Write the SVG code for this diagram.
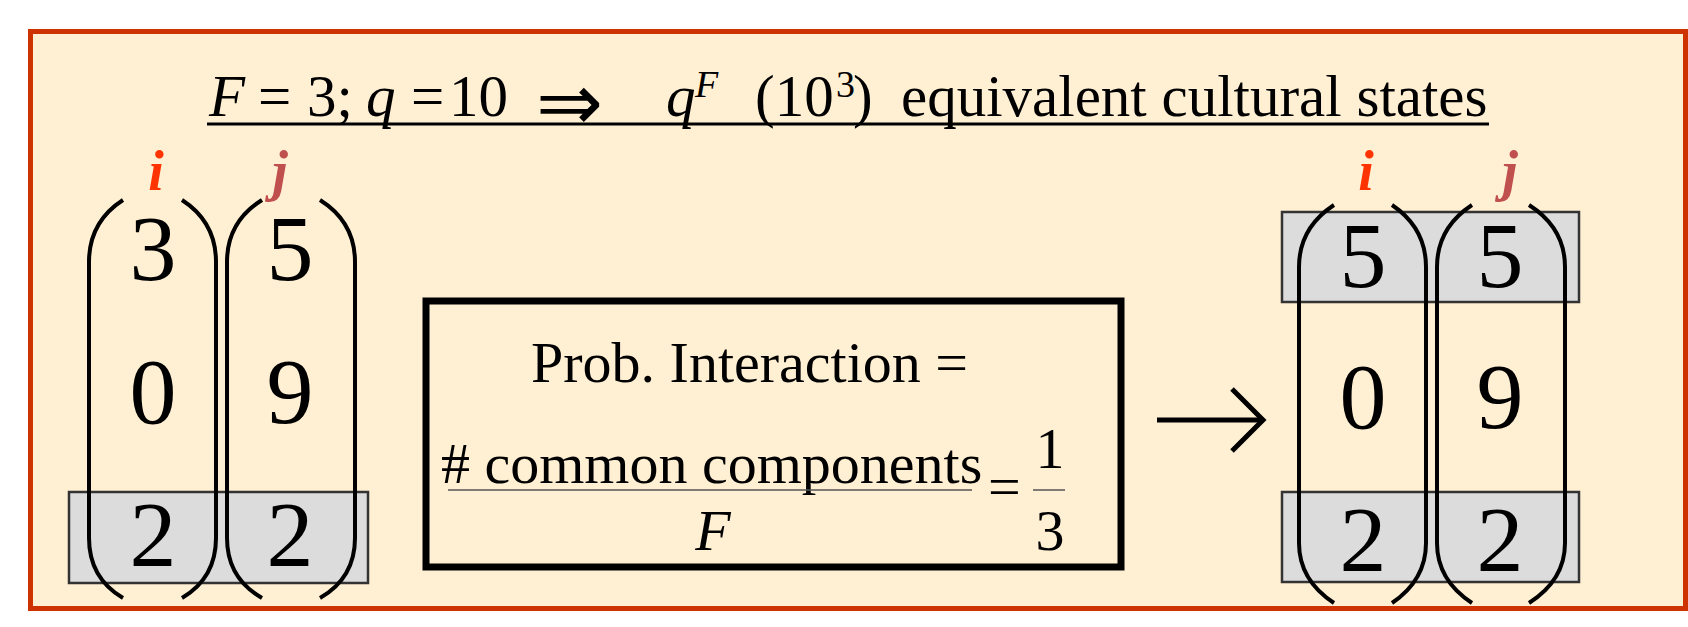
<svg xmlns="http://www.w3.org/2000/svg" width="1688" height="627" viewBox="0 0 1688 627">
<style>
  text { font-family: "Liberation Serif", "Times New Roman", "DejaVu Serif", serif; fill: #000; }
  .t { font-size: 59px; }
  .it { font-style: italic; }
  .sup { font-size: 38px; }
  .dig { font-size: 94px; text-anchor: middle; }
  .lbl { font-size: 56px; font-weight: bold; font-style: italic; text-anchor: middle; }
  .li { fill: #FF3300; }
  .lj { fill: #C0504D; }
  .paren { fill: none; stroke: #000; stroke-width: 4; }
  .hl { fill: #DCDCDC; stroke: #333; stroke-width: 2.5; }
  .m { font-size: 58px; }
</style>
<rect x="30.5" y="31.5" width="1655" height="577" fill="#FFEFD3" stroke="#CC3300" stroke-width="5"/>

<g id="title">
  <text class="t" y="116"><tspan x="209" class="it">F</tspan><tspan x="258">=</tspan><tspan x="307">3;</tspan><tspan x="366" class="it">q</tspan><tspan x="411">=</tspan><tspan x="449">10</tspan><tspan x="536" y="130" font-family="DejaVu Sans, sans-serif" font-size="80">⇒</tspan><tspan x="666" y="116" class="it">q</tspan><tspan x="695" y="97" class="sup it">F</tspan><tspan x="755" y="116">(10</tspan><tspan x="836" y="97" class="sup">3</tspan><tspan x="853" y="116">)</tspan><tspan x="901">equivalent cultural states</tspan></text>
  <line x1="207" y1="124" x2="1489" y2="124" stroke="#000" stroke-width="3"/>
</g>

<g id="left-matrix">
  <rect class="hl" x="69" y="492" width="299" height="91"/>
  <path class="paren" d="M123,200 Q89,222 89,262 L89,538 Q89,578 123,598"/>
  <path class="paren" d="M182,200 Q216,222 216,262 L216,538 Q216,578 182,598"/>
  <path class="paren" d="M262,200 Q227,222 227,262 L227,538 Q227,578 262,598"/>
  <path class="paren" d="M320,200 Q355,222 355,262 L355,538 Q355,578 320,598"/>
  <text class="lbl li" x="156" y="190">i</text>
  <text class="lbl lj" x="280" y="190">j</text>
  <text class="dig" x="153" y="280">3</text>
  <text class="dig" x="153" y="423">0</text>
  <text class="dig" x="153" y="566">2</text>
  <text class="dig" x="290" y="280">5</text>
  <text class="dig" x="290" y="423">9</text>
  <text class="dig" x="290" y="566">2</text>
</g>

<g id="probability-box">
  <rect x="426" y="301" width="695" height="266" fill="none" stroke="#000" stroke-width="7"/>
  <text class="m" x="531" y="382">Prob. Interaction =</text>
  <text class="m" x="441" y="483"># common components</text>
  <line x1="448" y1="490" x2="972" y2="490" stroke="#555" stroke-width="1.5"/>
  <text class="m it" x="713" y="550" text-anchor="middle">F</text>
  <text class="m" x="988" y="506">=</text>
  <text class="m" x="1050" y="468" text-anchor="middle" font-size="54">1</text>
  <line x1="1033" y1="490" x2="1065" y2="490" stroke="#555" stroke-width="1.5"/>
  <text class="m" x="1050" y="550" text-anchor="middle" font-size="54">3</text>
</g>

<g id="right-matrix">
  <rect class="hl" x="1282" y="212" width="297" height="90"/>
  <rect class="hl" x="1282" y="492" width="297" height="90"/>
  <path class="paren" d="M1334,205 Q1299,228 1299,267 L1299,543 Q1299,580 1334,603"/>
  <path class="paren" d="M1392,205 Q1426,228 1426,267 L1426,543 Q1426,580 1392,603"/>
  <path class="paren" d="M1472,205 Q1437,228 1437,267 L1437,543 Q1437,580 1472,603"/>
  <path class="paren" d="M1529,205 Q1565,228 1565,267 L1565,543 Q1565,580 1529,603"/>
  <text class="lbl li" x="1366" y="190">i</text>
  <text class="lbl lj" x="1510" y="190">j</text>
  <text class="dig" x="1363" y="287">5</text>
  <text class="dig" x="1363" y="428">0</text>
  <text class="dig" x="1363" y="571">2</text>
  <text class="dig" x="1500" y="287">5</text>
  <text class="dig" x="1500" y="428">9</text>
  <text class="dig" x="1500" y="571">2</text>
</g>

<g id="connectors">
  <line x1="1157" y1="420" x2="1261" y2="420" stroke="#000" stroke-width="5"/>
  <polyline points="1232,389 1263,420 1232,451" fill="none" stroke="#000" stroke-width="5"/>
</g>
</svg>
